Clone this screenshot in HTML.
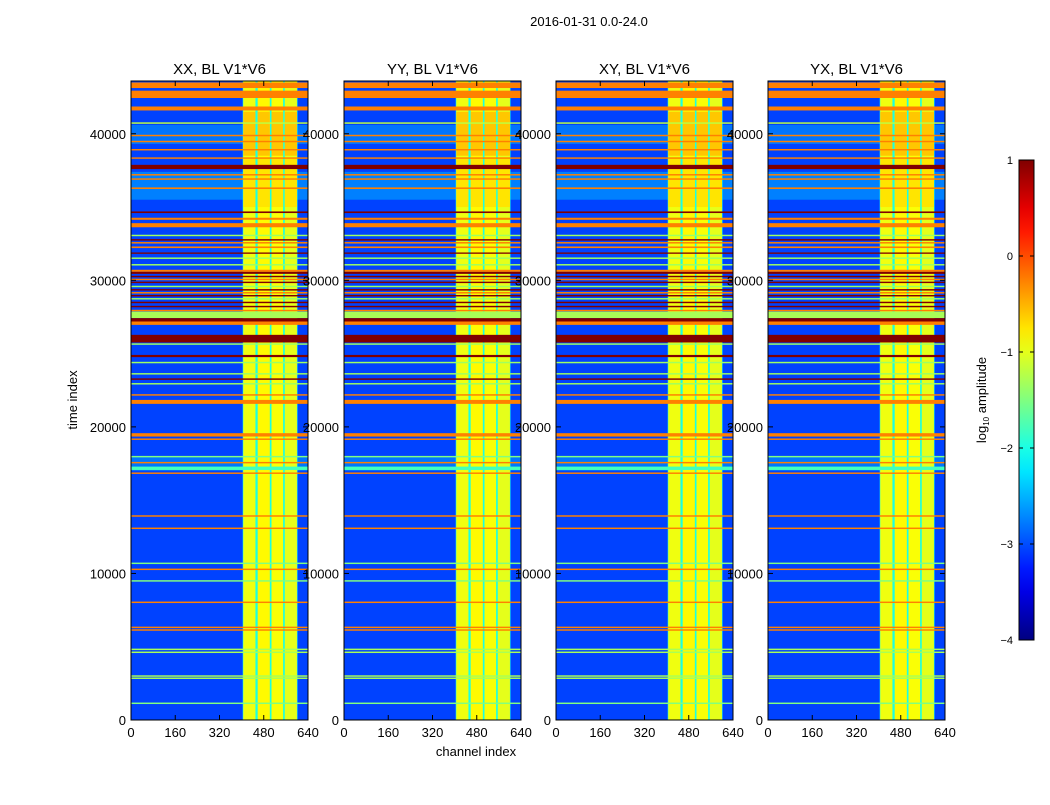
<!DOCTYPE html>
<html><head><meta charset="utf-8"><style>
body{margin:0;background:#fff;}
svg text{font-family:"Liberation Sans",sans-serif;fill:#000;}
</style></head><body>
<svg id="fig" width="1050" height="800" viewBox="0 0 1050 800" xmlns="http://www.w3.org/2000/svg">
<rect width="1050" height="800" fill="#fff"/>
<text x="589" y="26" font-size="13" text-anchor="middle">2016-01-31 0.0-24.0</text>
<text transform="translate(77,400) rotate(-90)" font-size="13" text-anchor="middle">time index</text>
<text x="476" y="756" font-size="13" text-anchor="middle">channel index</text>
<g id="panels"></g>
<g id="cbar"></g>
</svg>
<script>
const panelTitles = ["XX, BL V1*V6","YY, BL V1*V6","XY, BL V1*V6","YX, BL V1*V6"];
const xTicks = [0,160,320,480,640];
const yTicks = [0,10000,20000,30000,40000];
const cbTicks = [1,0,-1,-2,-3,-4];
const bgValue = -3.05;
const regStart = [35500,39300,17000];
const regEnd = [37400,40600,18000];
const regVal = [-2.75,-2.8,-2.8];
const bandStart = 404;
const bandEnd = 602;
const bandVal = -2.0;
const stripeStart = [406,458,508,556];
const stripeEnd = [450,502,550,600];
const stripeVal = [-0.95,-0.85,-0.9,-1.0];
const hotStart = [35000,38500];
const hotEnd = [38400,41500];
const hotVal = [-0.75,-0.6];
const hStart = [43120,42440,41590,40680,39830,39420,38860,38290,37590,37150,36860,36230,34590,34130,33620,33010,32710,32510,32200,31810,31460,31010,30580,30440,30210,30010,29810,29530,29300,29100,28900,28690,28440,28160,27890,27420,27190,26960,25760,25600,24760,24340,23570,23210,22890,22130,21570,19340,19110,17920,17510,17060,16790,13870,13030,10640,10230,9440,7980,6270,6090,4770,4570,2950,2800,1090];
const hEnd =   [43500,42940,41860,40780,39930,39520,38960,38390,37880,37250,36960,36340,34700,34270,33900,33110,32810,32610,32310,31900,31560,31110,30720,30580,30310,30110,29910,29630,29400,29200,29000,28790,28540,28260,27990,27870,27420,27190,26280,25700,24910,24440,23670,23310,22990,22230,21840,19570,19210,18020,17610,17290,16890,13970,13130,10740,10330,9540,8080,6370,6190,4870,4670,3050,2900,1190];
const hVal =   [-0.25,-0.25,-0.25,-1.2,-0.25,-0.25,-0.25,-0.25,1,-0.25,-0.25,-0.25,1,-0.25,-0.25,-1.35,1,-0.25,-0.25,1,-1.35,-1.35,-0.25,1,1,-0.25,1,-1.35,1,-0.25,1,-1.35,1,1,-0.25,-1.3,1,-0.25,1,-1.35,1,-1.35,-1.35,1,-1.35,-0.25,-0.25,-0.25,-0.25,-1.5,-0.25,-1.8,-0.25,-0.25,-0.25,-1.5,-0.25,-1.5,-0.25,-0.25,-0.25,-1.3,-1.3,-1.3,-1.3,-1.5];

const vmin=-4, vmax=1, tMax=43600, chMax=640;
const panelX=[131,344,556,768], panelW=177, pTop=81, pBot=720;
const NS="http://www.w3.org/2000/svg";
function clip(v){return Math.max(0,Math.min(1,v));}
function jet(v){const x=clip((v-vmin)/(vmax-vmin));
 const r=clip(1.5-Math.abs(4*x-3)),g=clip(1.5-Math.abs(4*x-2)),b=clip(1.5-Math.abs(4*x-1));
 return "rgb("+Math.round(r*255)+","+Math.round(g*255)+","+Math.round(b*255)+")";}
function el(tag,attrs,parent){const e=document.createElementNS(NS,tag);for(const k in attrs)e.setAttribute(k,attrs[k]);parent.appendChild(e);return e;}
const root=document.getElementById("panels");
panelX.forEach((x0,p)=>{
 const xS=c=>x0+c/chMax*panelW, yS=t=>pBot-t/tMax*(pBot-pTop);
 const g=el("g",{},root);
 
 
 const bg=el("rect",{x:x0,y:pTop,width:panelW,height:pBot-pTop,fill:jet(bgValue)},g);
 
 
 regStart.forEach((s,i)=>{const r=el("rect",{x:x0,y:yS(regEnd[i]),width:panelW,height:yS(s)-yS(regEnd[i]),fill:jet(regVal[i])},g);
  
  });
 const bd=el("rect",{x:xS(bandStart),y:pTop,width:xS(bandEnd)-xS(bandStart),height:pBot-pTop,fill:jet(bandVal)},g);
 
 
 stripeStart.forEach((s,i)=>{const r=el("rect",{x:xS(s),y:pTop,width:xS(stripeEnd[i])-xS(s),height:pBot-pTop,fill:jet(stripeVal[i])},g);
  
  
  hotStart.forEach((hs,j)=>{const h=el("rect",{x:xS(s),y:yS(hotEnd[j]),width:xS(stripeEnd[i])-xS(s),height:yS(hs)-yS(hotEnd[j]),fill:jet(hotVal[j])},g);
   
   });
 });
 hStart.forEach((s,i)=>{const r=el("rect",{x:x0,y:yS(hEnd[i]),width:panelW,height:Math.max(1.2,yS(s)-yS(hEnd[i])),fill:jet(hVal[i])},g);
  
  });
 const fr=el("rect",{x:x0,y:pTop,width:panelW,height:pBot-pTop,fill:"none",stroke:"#000","stroke-width":1},g);
 
 
 xTicks.forEach(v=>{const x=xS(v);
  el("line",{x1:x,x2:x,y1:pBot,y2:pBot-5,stroke:"#000"},g);
  el("line",{x1:x,x2:x,y1:pTop,y2:pTop+5,stroke:"#000"},g);
  const t=el("text",{x:x,y:pBot+17,"font-size":13,"text-anchor":"middle"},g);t.textContent=v;
  
  });
 yTicks.forEach(v=>{const y=yS(v);
  el("line",{x1:x0,x2:x0+5,y1:y,y2:y,stroke:"#000"},g);
  el("line",{x1:x0+panelW,x2:x0+panelW-5,y1:y,y2:y,stroke:"#000"},g);
  const t=el("text",{x:x0-5,y:y+5,"font-size":13,"text-anchor":"end"},g);t.textContent=v;
  
  });
 const tt=el("text",{x:x0+panelW/2,y:74,"font-size":15,"text-anchor":"middle"},g);tt.textContent=panelTitles[p];
 
 
});
const cb=document.getElementById("cbar");


const cbTop=160,cbBot=640,cbX=1019,cbW=15;
const cbS=v=>cbBot-(v-vmin)/(vmax-vmin)*(cbBot-cbTop);
const defs=el("defs",{},cb);
const lg=el("linearGradient",{id:"jetg",x1:0,y1:1,x2:0,y2:0},defs);
for(let i=0;i<=20;i++){el("stop",{offset:i/20,"stop-color":jet(vmin+i/20*(vmax-vmin))},lg);}
el("rect",{x:cbX,y:cbTop,width:cbW,height:cbBot-cbTop,fill:"url(#jetg)",stroke:"#000"},cb);
cbTicks.forEach(v=>{const y=cbS(v);
 el("line",{x1:cbX,x2:cbX+4,y1:y,y2:y,stroke:"#000"},cb);
 el("line",{x1:cbX+cbW,x2:cbX+cbW-4,y1:y,y2:y,stroke:"#000"},cb);
 const t=el("text",{x:1013,y:y+4,"font-size":11,"text-anchor":"end"},cb);t.textContent=v<0?"\u2212"+(-v):v;
 
 });
const cl=el("text",{transform:"translate(986,400) rotate(-90)","font-size":13,"text-anchor":"middle"},cb);


cl.innerHTML='log<tspan font-size="8" dy="3">10</tspan><tspan dy="-3"> amplitude</tspan>';
</script>
</body></html>
